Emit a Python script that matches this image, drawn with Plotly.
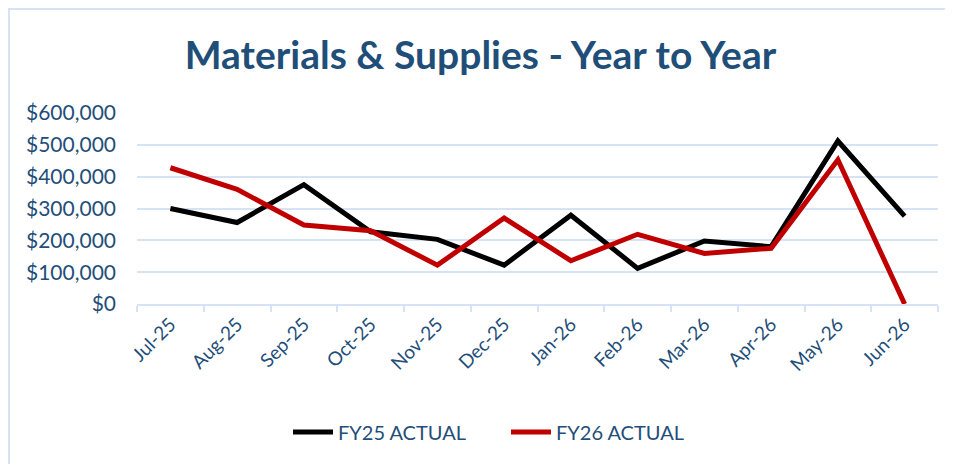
import plotly.graph_objects as go

months = ["Jul-25", "Aug-25", "Sep-25", "Oct-25", "Nov-25", "Dec-25",
          "Jan-26", "Feb-26", "Mar-26", "Apr-26", "May-26", "Jun-26"]
fy25_actual = [300000, 256000, 375000, 227000, 203000, 122000,
               279000, 112000, 198000, 180000, 512000, 276000]
fy26_actual = [428000, 360000, 248000, 230000, 122000, 270000,
               136000, 219000, 159000, 175000, 453000, 0]
y_ticks = [0, 100000, 200000, 300000, 400000, 500000, 600000]
y_tick_labels = ["$0", "$100,000", "$200,000", "$300,000", "$400,000", "$500,000", "$600,000"]

TEXT = "#1F4E79"
GRID = "#D6E3F5"
FONT = "Lato"

fig = go.Figure()
fig.add_trace(go.Scatter(x=months, y=fy25_actual, mode="lines", name="FY25 ACTUAL",
                         line=dict(color="#000000", width=5)))
fig.add_trace(go.Scatter(x=months, y=fy26_actual, mode="lines", name="FY26 ACTUAL",
                         line=dict(color="#C00000", width=5)))

# page has an 8px body margin; figure coordinates = page coordinates - 8
OFF = 8
W, H = 953 - OFF, 464 - OFF
L, R, T, B = 137 - OFF, 15, 113 - OFF, 160
pw, ph = W - L - R, H - T - B

def px_x(p):
    return (p - OFF - L) / pw

def px_y(p):
    return (H - B - (p - OFF)) / ph

fig.update_layout(
    width=W, height=H,
    margin=dict(l=L, r=R, t=T, b=B, autoexpand=False),
    paper_bgcolor="white", plot_bgcolor="white",
    font=dict(family=FONT, color=TEXT),
    title=dict(text="<b>Materials & Supplies - Year to Year</b>",
               font=dict(size=39, color=TEXT, family=FONT),
               x=0.5, xanchor="center", y=1 - (55 - OFF) / H, yanchor="middle"),
    showlegend=True,
    legend=dict(orientation="h", x=px_x(288), xanchor="left",
                y=px_y(432), yanchor="middle",
                font=dict(size=20, color=TEXT, family=FONT),
                itemwidth=40, entrywidth=163, entrywidthmode="pixels",
                bgcolor="rgba(0,0,0,0)"),
    xaxis=dict(type="category", range=[-0.5, len(months) - 0.5],
               showgrid=False, showline=True, linecolor=GRID, linewidth=2,
               ticks="outside", ticklen=6, tickcolor=GRID, tickwidth=2,
               tickson="boundaries", tickangle=-45, automargin=False,
               tickfont=dict(size=19, color=TEXT, family=FONT), fixedrange=True),
    yaxis=dict(range=[0, 600000], tickvals=y_ticks, ticktext=y_tick_labels,
               showgrid=True, gridcolor=GRID, gridwidth=2, zeroline=False,
               showline=False, ticks="", ticklabelstandoff=20, automargin=False,
               tickfont=dict(size=21, color=TEXT, family=FONT), fixedrange=True),
    shapes=[dict(type="rect", xref="paper", yref="paper",
                 x0=px_x(9), x1=px_x(975), y0=px_y(9), y1=px_y(490),
                 line=dict(color=GRID, width=2), layer="below")],
)

fig.write_html("out.html")
